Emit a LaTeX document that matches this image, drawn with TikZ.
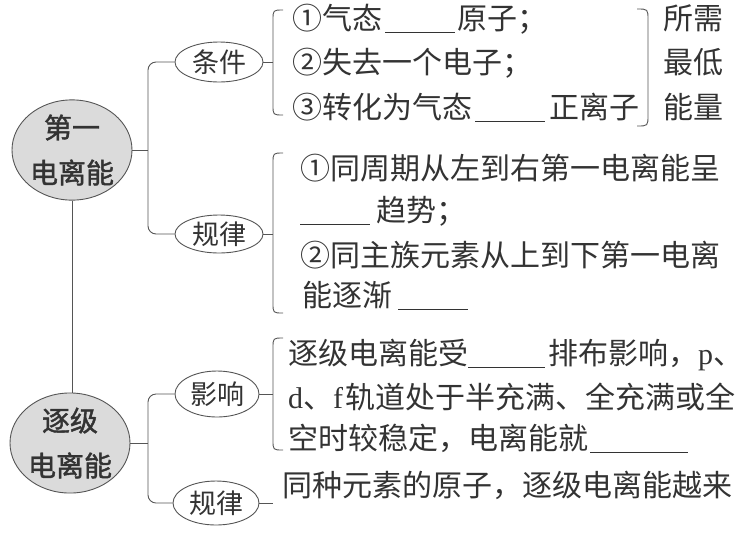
\documentclass[tikz,border=0pt]{standalone}
\usepackage{fontspec}
\setmainfont{Noto Sans CJK SC}
\newfontfamily\cjkb{Noto Sans CJK SC}[FakeBold=1.5]
\newfontfamily\latserif{Liberation Serif}
\usetikzlibrary{shapes.geometric}
\newcommand{\myblank}[1]{\rule[-4pt]{#1}{0.7pt}}
\definecolor{ink}{HTML}{333333}
\definecolor{lin}{HTML}{555555}
\tikzset{
  bigell/.style={ellipse, draw=lin, line width=0.9pt, fill=gray!28, minimum width=120pt, minimum height=96pt, inner sep=0pt, align=center, text=ink, font=\cjkb\fontsize{28}{45}\selectfont},
  smell/.style={ellipse, draw=lin, line width=0.9pt, fill=white, minimum width=88pt, minimum height=40pt, inner sep=0pt, text=ink, font=\fontsize{27}{32}\selectfont},
  txt/.style={anchor=base west, inner sep=0pt, text=ink, font=\fontsize{30}{36}\selectfont},
  conn/.style={draw=lin, line width=0.9pt},
}
\begin{document}
\begin{tikzpicture}[x=1pt,y=-1pt]
\useasboundingbox (0,0) rectangle (743,542);
% main ellipses
\node[bigell] (e1) at (72,150) {第一\\电离能};
\node[bigell, minimum height=100pt] (e2) at (70,443) {逐级\\电离能};
% sub ellipses
\node[smell] (c1) at (219,62) {条件};
\node[smell, minimum height=38pt] (r1) at (219,234) {规律};
\node[smell, minimum width=84pt, minimum height=46pt] (y1) at (217,394) {影响};
\node[smell, minimum width=86pt, minimum height=44pt] (r2) at (216,503) {规律};
% connectors from main ellipses
\coordinate (j1) at (148,150);
\coordinate (j2) at (148,443);
\draw[conn] (e1.east) -- (j1);
\draw[conn, rounded corners=8pt] (c1.west) -| (j1) |- (r1.west);
\draw[conn] (e1.south) -- (e1.south |- e2.north);
\draw[conn] (e2.east) -- (j2);
\draw[conn, rounded corners=8pt] (y1.west) -| (j2) |- (r2.west);
% brackets
\coordinate (b1) at (273,62);
\coordinate (b2) at (273,234);
\coordinate (b3) at (273,394);
\coordinate (b4) at (273,503);
\draw[conn] (c1.east) -- (b1);
\draw[conn] (r1.east) -- (b2);
\draw[conn] (y1.east) -- (b3);
\draw[conn] (r2.east) -- (b4);
\draw[conn] (283,10) .. controls (273,10) .. (273,20) -- (273,105) .. controls (273,115) .. (283,115);
\draw[conn] (283,153) .. controls (273,153) .. (273,163) -- (273,303) .. controls (273,313) .. (283,313);
\draw[conn] (283,338) .. controls (273,338) .. (273,348) -- (273,440) .. controls (273,450) .. (283,450);
\draw[conn] (637,9) .. controls (648,9) .. (648,20) -- (648,115) .. controls (648,126) .. (637,126);
% texts: conditions
\node[txt] (t1) at (292,29) {①气态\hspace{3pt}\myblank{70pt}\hspace{2pt}原子；};
\node[txt] (t2) at (292,73) {②失去一个电子；};
\node[txt] (t3) at (292,118) {③转化为气态\hspace{3pt}\myblank{70pt}\hspace{4pt}正离子};
\node[txt] (t4) at (663,29) {所需};
\node[txt] (t5) at (663,73) {最低};
\node[txt] (t6) at (663,118) {能量};
% texts: rules of first ionization energy
\node[txt] (t7) at (300,179) {①同周期从左到右第一电离能呈};
\node[txt] (t8) at (300,221) {\myblank{70pt}\hspace{6pt}趋势；};
\node[txt] (t9) at (300,266) {②同主族元素从上到下第一电离};
\node[txt] (t10) at (302,306) {能逐渐\hspace{6pt}\myblank{70pt}};
% texts: influence
\node[txt] (t11) at (288,364) {逐级电离能受\myblank{77pt}\hspace{3pt}排布影响，{\latserif p}、};
\node[txt] (t12) at (288,408) {{\latserif d}、{\latserif f}\hspace{2pt}轨道处于半充满、全充满或全};
\node[txt] (t13) at (288,449) {空时较稳定，电离能就\hspace{2pt}\myblank{98pt}};
% texts: rule of successive ionization energy
\node[txt] (t14) at (282,496) {同种元素的原子，逐级电离能越来};
\end{tikzpicture}
\end{document}
